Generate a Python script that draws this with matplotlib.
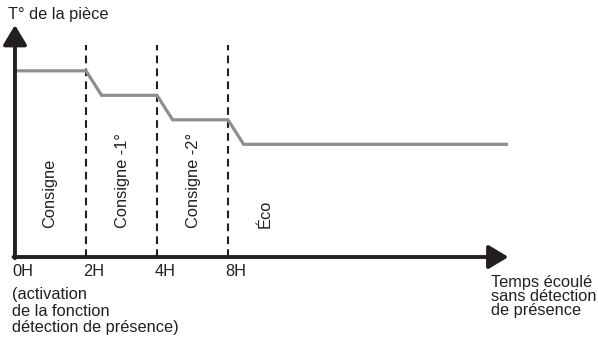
import matplotlib.pyplot as plt

plt.rcParams['font.family'] = ['Liberation Sans', 'DejaVu Sans']

# time marks (one unit per interval) and temperature levels
tick_pos = [0, 1, 2, 3]
tick_labels = ['0H', '2H', '4H', '8H']
levels = [7.6, 6.6, 5.6, 4.6]
ramp = 0.22
t_end = 6.92
zones = ['Consigne', 'Consigne -1°', 'Consigne -2°', 'Éco']
zone_x = [0.49, 1.52, 2.51, 3.52]
note_lines = ['(activation', 'de la fonction', 'détection de présence)']
xlabel_lines = ['Temps écoulé', 'sans détection', 'de présence']

ink = '#231f20'

fig = plt.figure(figsize=(5.98, 3.37), dpi=100)
ax = fig.add_axes([0, 0, 1, 1])
ax.set_xlim(-0.211, 8.211)
ax.set_ylim(-3.265, 10.49)
ax.axis('off')

# temperature curve: steps down at each mark
xs, ys = [0], [levels[0]]
for i, t in enumerate(tick_pos[1:]):
    xs += [t, t + ramp]
    ys += [levels[i], levels[i + 1]]
xs.append(t_end)
ys.append(levels[-1])
ax.plot(xs, ys, color='#8e8e8e', lw=2.3, solid_joinstyle='miter', zorder=2)

# dashed markers
for t in tick_pos[1:]:
    ax.plot([t, t], [0, 8.65], color=ink, lw=1.5, dashes=(3.7, 2.5), zorder=1)

# axes arrows
arrow = dict(arrowstyle='-|>,head_length=0.6,head_width=0.36', lw=2.8,
             color=ink, shrinkA=0, shrinkB=0, mutation_scale=20)
ax.annotate('', xy=(0, 9.47), xytext=(0, -0.05), arrowprops=arrow)
ax.annotate('', xy=(6.95, 0), xytext=(-0.02, 0), arrowprops=arrow)

fs = 11.8
ax.text(-0.1, 9.88, 'T° de la pièce', fontsize=fs, color=ink, va='center', ha='left')

for t, lab in zip(tick_pos, tick_labels):
    ax.text(t - 0.04, -0.61, lab, fontsize=fs, color=ink, va='center', ha='left')

for i, line in enumerate(note_lines):
    ax.text(-0.04, -1.55 - 0.67 * i, line, fontsize=fs, color=ink, va='center', ha='left')

for i, line in enumerate(xlabel_lines):
    ax.text(6.7, -1.06 - 0.56 * i, line, fontsize=fs, color=ink, va='center', ha='left')

for x, z in zip(zone_x, zones):
    ax.text(x, 1.18, z, fontsize=fs, color=ink, rotation=90, ha='center', va='bottom')

fig.savefig('out.png', dpi=100)
